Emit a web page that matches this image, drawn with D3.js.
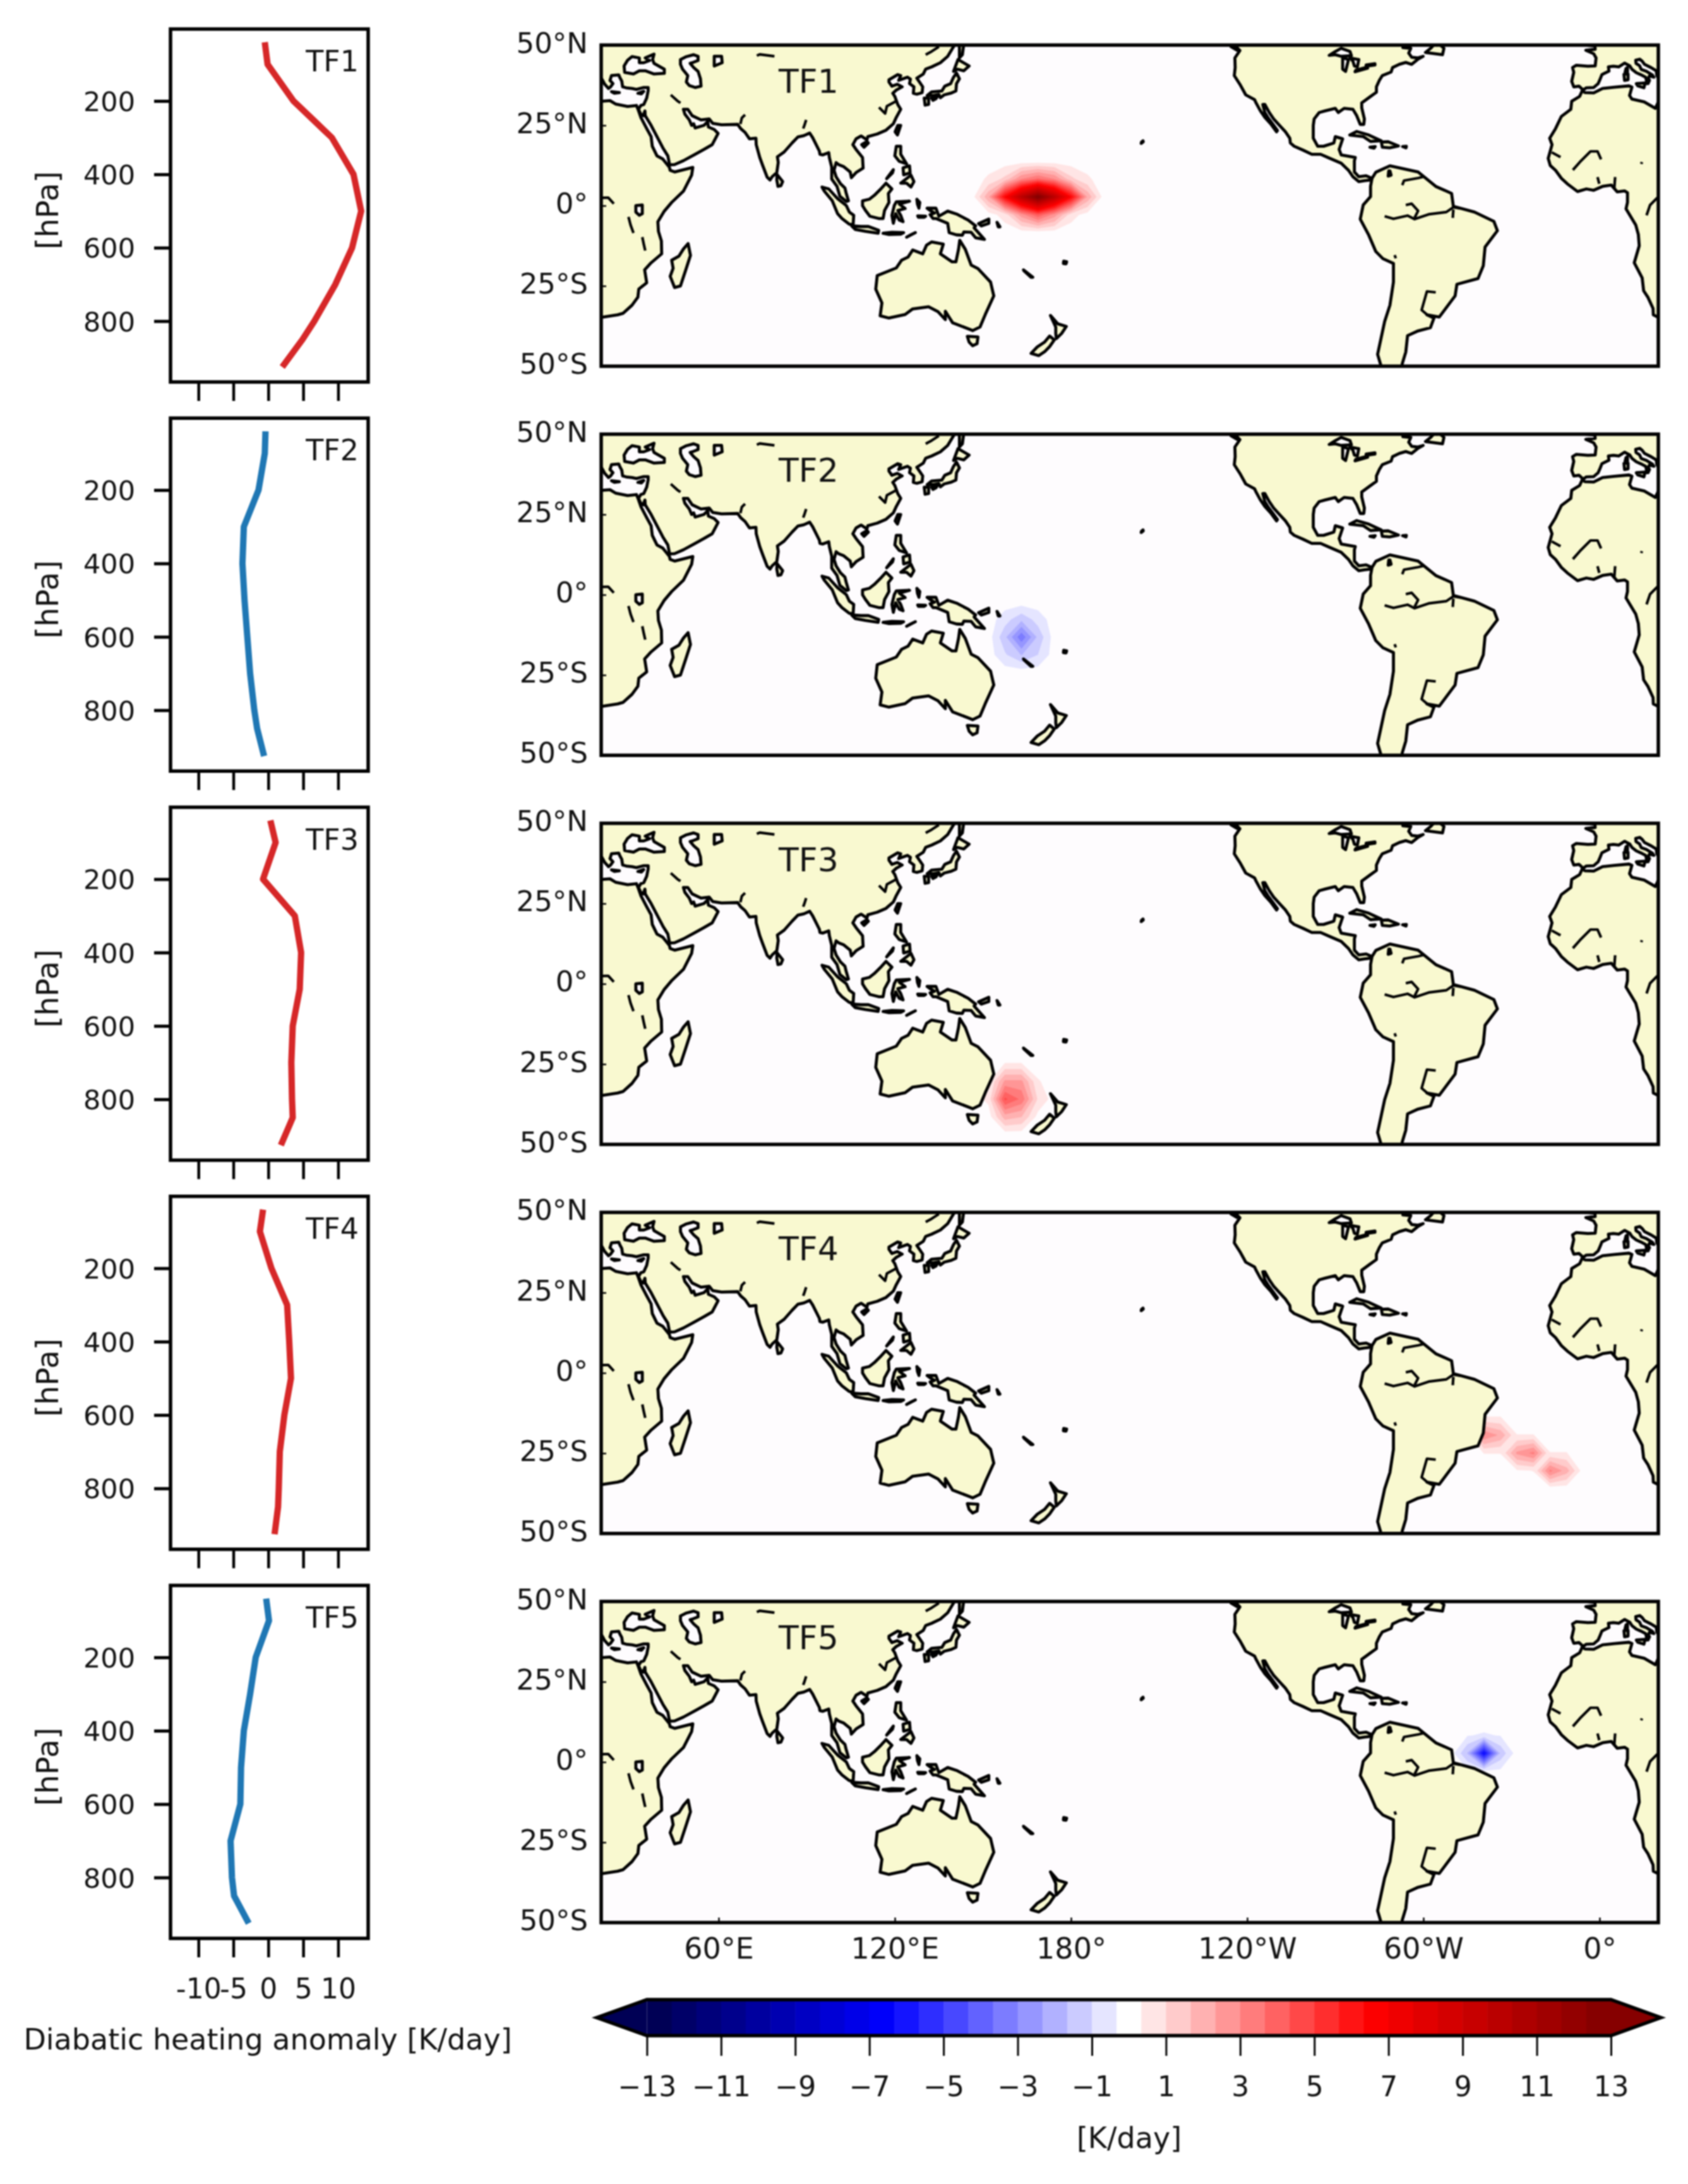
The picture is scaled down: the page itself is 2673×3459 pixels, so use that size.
<!DOCTYPE html>
<html>
<head>
<meta charset="utf-8">
<script src="https://d3js.org/d3.v7.min.js"></script>
<style>
  body { margin: 0; background: #fff; }
  svg { display: block; filter: blur(1.2px); }
  text { font-family: "DejaVu Sans", sans-serif; fill: #111; }
</style>
</head>
<body>
<div id="chart"></div>
<script>
// ---- data ----
var panelNames = ['TF1', 'TF2', 'TF3', 'TF4', 'TF5'];
var pressureLevels = [40, 100, 200, 300, 400, 500, 600, 700, 800, 850, 925];
var tf1Profile = [-0.5, -0.1, 3.6, 9.1, 12.2, 13.3, 12, 9.6, 6.6, 4.9, 2];
var tf2Profile = [-0.4, -0.5, -1.4, -3.5, -3.7, -3.4, -3, -2.6, -2, -1.6, -0.6];
var tf3Profile = [0.3, 1.05, -0.75, 3.8, 4.7, 4.5, 3.5, 3.3, 3.4, 3.5, 1.8];
var tf4Profile = [-0.75, -1.2, 0.45, 2.7, 3, 3.25, 2.3, 1.65, 1.5, 1.4, 0.9];
var tf5Profile = [-0.3, 0.1, -1.8, -2.6, -3.5, -3.9, -4, -5.4, -5.2, -4.9, -2.8];
var profiles = [tf1Profile, tf2Profile, tf3Profile, tf4Profile, tf5Profile];

var pressureTicks = [200, 400, 600, 800];
var anomalyTicks = [-10, -5, 0, 5, 10];
var lonTicks = [60, 120, 180, 240, 300, 360];
var lonTickLabels = ['60°E', '120°E', '180°', '120°W', '60°W', '0°'];
var latTicks = [50, 25, 0, -25, -50];
var latTickLabels = ['50°N', '25°N', '0°', '25°S', '50°S'];
var colorbarTicks = [-13, -11, -9, -7, -5, -3, -1, 1, 3, 5, 7, 9, 11, 13];

// model grid cell values [K/day] around each heating patch
var tf1Lons = [140.625, 146.25, 151.875, 157.5, 163.125, 168.75, 174.375, 180, 185.625, 191.25, 196.875];
var tf1Lats = [19.4, 13.84, 8.3, 2.77, -2.77, -8.3, -13.84];
var tf1Heat = [
  [0, 0, 0, 0, 0, 0, 0, 0, 0, 0, 0],
  [0, 0, 0, 0, 0, 0, 0, 0, 0, 0, 0],
  [0, 0, 0.45, 1.2, 3, 3.8, 3, 1.2, 0.45, 0, 0],
  [0, 0, 2.2, 6.5, 10, 13, 10, 6.5, 2.2, 0, 0],
  [0, 0, 0.05, 0.6, 2.7, 4.2, 2.7, 0.6, 0.05, 0, 0],
  [0, 0, 0, 0, 0, 0, 0, 0, 0, 0, 0],
  [0, 0, 0, 0, 0, 0, 0, 0, 0, 0, 0]
];
var tf2Lons = [146.25, 151.875, 157.5, 163.125, 168.75, 174.375, 180];
var tf2Lats = [-2.2, -7.7, -13.2, -18.8, -24.3, -29.9];
var tf2Heat = [
  [0, 0, 0, 0, 0, 0, 0],
  [0, 0, -0.7, -1.5, -0.7, 0, 0],
  [0, 0, -1.5, -3.5, -1.5, 0, 0],
  [0, 0, -0.9, -1.7, -1, 0, 0],
  [0, 0, 0, 0, 0, 0, 0],
  [0, 0, 0, 0, 0, 0, 0]
];
var tf3Lons = [146.25, 151.875, 157.5, 163.125, 168.75, 174.375];
var tf3Lats = [-19.4, -24.9, -30.5, -36, -41.5, -47];
var tf3Heat = [
  [0, 0, 0, 0, 0, 0],
  [0, 0, 0.35, 0.35, 0, 0],
  [0, 0.15, 2.5, 2.5, 0.4, 0],
  [0, 0.5, 4.5, 3.5, 0.9, 0],
  [0, 0, 2, 1.7, 0.1, 0],
  [0, 0, 0, 0, 0, 0]
];
var tf4Lons = [315, 320.625, 326.25, 331.875, 337.5, 343.125, 348.75, 354.375];
var tf4Lats = [-8.3, -13.84, -19.4, -24.9, -30.5, -36];
var tf4Heat = [
  [0, 0, 0, 0, 0, 0, 0, 0],
  [0, 0.35, 0.35, 0, 0, 0, 0, 0],
  [0, 3, 2.2, 0.35, 0.35, 0, 0, 0],
  [0, 0.35, 0.35, 2.5, 3.2, 0.35, 0.35, 0],
  [0, 0, 0, 0.25, 0.35, 3.2, 2, 0],
  [0, 0, 0, 0, 0, 0, 0, 0]
];
var tf5Lons = [303.75, 309.375, 315, 320.625, 326.25, 331.875, 337.5];
var tf5Lats = [13.84, 8.3, 2.77, -2.77, -8.3];
var tf5Heat = [
  [0, 0, 0, 0, 0, 0, 0],
  [0, 0, -0.3, -0.4, -0.3, 0, 0],
  [0, 0, -1.7, -6.5, -1.5, 0, 0],
  [0, 0, -0.2, -0.3, -0.2, 0, 0],
  [0, 0, 0, 0, 0, 0, 0]
];
var fields = [
  {lons: tf1Lons, lats: tf1Lats, heat: tf1Heat},
  {lons: tf2Lons, lats: tf2Lats, heat: tf2Heat},
  {lons: tf3Lons, lats: tf3Lats, heat: tf3Heat},
  {lons: tf4Lons, lats: tf4Lats, heat: tf4Heat},
  {lons: tf5Lons, lats: tf5Lats, heat: tf5Heat}
];

// coast outlines, [lon, lat]
var eurasia = [[-5,60],[-5,50],[-1.6,49.7],[-1.5,48.7],[-4.7,48.4],[-2,47.3],[-1.2,46],[-1.5,43.5],[-4,43.4],[-8,43.7],[-9.2,43],[-8.8,41.5],[-9.5,38.7],[-8.8,37],[-7,37.2],[-5.6,36],[-4.5,36.7],[-2,36.8],[-0.5,38],[0,39],[0.8,40.8],[3.2,41.9],[3,43.2],[4.7,43.4],[6.5,43.2],[8.5,44.4],[10.3,43.5],[11,42.5],[12.5,41.4],[14,40.8],[15.7,40],[16,38.8],[15.7,38],[16.5,38],[17,39],[16.6,39.7],[17,40.4],[18.5,40],[18,40.7],[16,41.8],[14.2,42.4],[13.6,43.6],[12.4,44.3],[12.3,45.3],[13.7,45.6],[14.5,45],[15.3,44],[17.5,43],[19.3,42],[19.5,40.5],[20.5,39],[21.2,37.8],[22.5,36.5],[23.2,37],[24,38],[23,39],[23.5,40.5],[26,40.7],[26.3,40],[27,38.8],[27.3,37],[28.5,36.7],[30.5,36.5],[32,36.2],[34.5,36.8],[36,36.8],[36,35.8],[35.5,33.5],[34.5,31.5],[33.5,31.2],[32.7,30],[33.5,28.5],[34.3,28],[34.9,29.5],[35,28],[37,25],[39,21.5],[41,18],[42.7,15.5],[43.3,12.7],[45,12.8],[48,14],[52,16],[55,17.5],[57.8,19],[59.8,22.5],[58.5,23.7],[56.5,24.5],[56.3,26.2],[55,25],[52,24.2],[51.5,25.5],[50.8,25],[50,26.7],[48.5,28.5],[48,30],[49.5,30],[51,28],[54,26.7],[56.8,27],[58,25.6],[61,25.2],[66.5,25.3],[67.5,24],[69,22.8],[70.5,20.8],[72.7,21],[72.8,19],[74,15],[75,12.5],[76.5,8.9],[77.5,8],[78.2,9],[79.8,10.3],[80.3,13.5],[80,15.2],[82.3,16.7],[85,19.5],[87,21.4],[89,21.8],[91,22.6],[92,21.2],[94.3,17],[94.5,16],[95.5,15.8],[97.5,16.5],[97.7,15],[98.5,12],[98.5,8.3],[100.3,6],[101.3,2.9],[103.5,1.3],[104.2,1.5],[103.4,4],[103,5.5],[101.5,6.8],[100,9],[99.3,11],[100,13.4],[101,12.7],[102.5,12.2],[104.8,10.5],[105.2,8.7],[106.8,10.3],[109.2,11.7],[109,15],[106.8,17.5],[105.7,19],[106.8,20.8],[108.5,21.7],[110.5,20.5],[110.8,21.5],[114,22.3],[117,23.5],[119.5,25.5],[120.5,27.5],[122,30],[121,31.5],[120,34],[119.3,35],[120.5,36],[122.5,37],[120.8,37.8],[119,37.2],[118,38.5],[118,39.2],[121,40.8],[122,40.5],[121.3,39],[124.3,40],[125.3,39.4],[125,38],[126.5,37],[126.3,35],[127.5,34.7],[129.3,35.2],[129.5,37],[127.5,39.7],[129.7,41],[130.5,42.5],[132.5,43.2],[135.5,44.5],[138,46.5],[140.3,50],[141,53],[141,60]];
var africa = [[-5.9,35.8],[-5,35.2],[-2,35.1],[1,36.5],[5,36.9],[10,37.3],[11,36.9],[10.2,34.3],[11,33.2],[15.2,32.3],[19,30.3],[20.1,32.5],[23,32.7],[25,31.6],[29,30.9],[32,31.2],[32.6,29.9],[33.5,27.5],[35.5,24],[37,21.5],[37.4,18.5],[39,15.5],[41,14.5],[43.2,12],[43.5,11],[45,10.5],[51.2,11.9],[50.8,9.5],[48,4.5],[44,1],[41.5,-1.7],[39.3,-5],[39.5,-8],[40.5,-11],[40.6,-15],[37,-17.8],[34.8,-20],[35.5,-24],[32.8,-26],[32.5,-28.5],[30.5,-31],[27.5,-33.5],[25.6,-34],[20,-34.8],[18.3,-34],[18.2,-32],[16.5,-28.6],[15,-26.5],[14.5,-22.5],[11.8,-17.8],[13.5,-12.5],[13.2,-9],[12.3,-6],[9,-1],[9.5,1],[9.5,4],[8.5,4.6],[6,4.3],[4,6.4],[1,6],[-2,4.8],[-4.5,5.2],[-7.5,4.4],[-11,6.8],[-13,8.5],[-15,11],[-16.8,12.5],[-17.5,14.7],[-16.2,19],[-17,21],[-15,24],[-13,27.8],[-9.8,30],[-9.5,32.5],[-6.8,34]];
var northAmerica = [[236.8,55],[236.5,49.2],[237.5,48.3],[235.8,46],[235.9,43],[235.6,40.5],[237.5,37.8],[239.5,34.5],[242.5,33],[243,32],[244.5,29.5],[246,27.5],[248,25.5],[250,23],[250.3,23.4],[249,25],[247,27.5],[246,29],[245.3,31.5],[246,31.5],[247.5,29],[249,27],[251,25],[253,23],[254.5,21],[254.7,19.5],[256,18.5],[259,17.3],[262,16],[265,16],[268,14.8],[272,13.2],[274.5,11],[276,9],[278,7.5],[280,7.8],[282,8],[282.5,8.5],[280.5,9.3],[278,9],[276.5,10.5],[276.5,14],[276.8,15],[272,15.8],[271.3,17.5],[272.5,20.8],[270,21.5],[269.5,19.5],[266,18.5],[264,18.5],[262.5,21],[262.5,25],[262.8,27],[264.5,29],[266.5,29.5],[270,30.3],[271,29],[273,30.3],[276,30],[277.3,28],[278.5,25.3],[279.7,25.3],[279.9,27],[279,30.5],[279,32],[282,34],[284,35.3],[284,37],[285,39],[286,40.5],[289,41.6],[289.5,43],[291.8,44],[294,44.6],[296,44],[298,45.5],[299.9,46.5],[298,46],[296,46.2],[295,47.5],[295.7,49],[293,49.2],[293,50],[296,50.2],[298,50],[303,52],[303,55]];
var southAmerica = [[282.5,8.5],[282,6],[282,2.8],[279.5,0.2],[278.5,-4.2],[281.4,-9.2],[283.8,-14.3],[286.2,-16.5],[289.8,-18],[289.8,-23.8],[288.6,-31],[286.8,-36.1],[285.6,-41.2],[284.4,-46.3],[285.6,-50],[288,-55],[292,-55],[292.8,-49.2],[294,-45.6],[294.6,-40.5],[298.2,-39],[302.4,-38],[303.6,-35],[301.2,-34],[305.4,-34.7],[310.8,-28.1],[311.4,-24.5],[318.6,-22.7],[320.4,-18.7],[321,-12.9],[325.2,-7.8],[324,-4.9],[317.4,-2],[310.2,-0.2],[309.6,3.8],[304.2,6],[298.2,10.5],[288.6,12.4],[283.8,10.4]];
var australia = [[142.1,-10.8],[144,-13.6],[146,-18.5],[148.3,-19.6],[152.6,-23.8],[153.7,-28.1],[150.8,-33.9],[149,-37.8],[146.5,-38.9],[144.6,-38.2],[139.7,-36.5],[137.2,-32.9],[137.2,-35.5],[134.7,-33],[131.5,-31.5],[126,-32.2],[123.5,-33.9],[118,-35],[115,-34.3],[115.6,-30.3],[113.5,-26],[114,-21.8],[120.5,-19.4],[122.3,-17],[124.5,-16],[126.1,-13.8],[129.5,-15],[130.8,-12.3],[132.5,-11.3],[136.5,-12],[135.5,-15],[139.5,-17.5],[140.8,-17.5],[141.7,-13.6]];
var islandOutlines = [
  [[49.6,-11.8],[50.4,-15.5],[48.8,-20],[47,-25],[45,-25.5],[43.5,-22],[44.5,-19.5],[44,-17],[46.5,-15.7],[48,-13.5]], // madagascar
  [[79.9,9.7],[81.8,7.5],[81.2,6.2],[80.2,6],[79.8,8]], // sri lanka
  [[95.2,5.8],[97.5,5.2],[100.5,2.2],[103.5,0],[104.5,-2],[106,-3],[105.8,-5.9],[104.5,-5.8],[102,-4],[100.5,-2.5],[98.7,1.5],[96,4.5]], // sumatra
  [[109,1.5],[111.3,2],[113,3.2],[115,5],[117,7],[119,5.2],[117.8,3.8],[118,1],[116.5,-1.5],[116,-4],[114.5,-4],[111.5,-3.3],[110,-1.5],[109,0]], // borneo
  [[105.3,-6.3],[108.5,-6.5],[111,-6.5],[114.5,-7.7],[114.3,-8.6],[110,-8],[106.5,-7.4]], // java
  [[116,-8.6],[119,-8.3],[123,-8.4],[122,-8.9],[118,-9]],
  [[124,-9.8],[127,-8.4],[125,-9.3]], // timor
  [[119.5,-5.5],[120.3,-2.5],[121.5,-4.5],[122.8,-5],[122,-3],[121,-1.5],[123.5,-0.9],[121.5,0.5],[125,1.4],[120.5,1.2],[119.8,0],[119,-3]], // sulawesi
  [[127.5,2],[128.5,1],[128.2,-0.8],[127.7,0.5]],
  [[127.8,-3.2],[130.5,-3.3],[130,-3.6],[128,-3.6]], // seram
  [[131,-0.8],[134,-0.8],[135,-3.3],[138,-1.7],[141,-2.6],[145,-4.5],[147.5,-6.3],[147,-6.9],[150.5,-10.5],[147.5,-10],[146,-8.3],[143.5,-8.2],[143,-9.2],[141,-9.1],[138.5,-8.4],[138,-5.5],[134,-4],[133,-4],[132,-2.8],[133.5,-2.3],[132,-1.5]], // new guinea
  [[148.5,-5.6],[152,-4.2],[152,-5.5],[149.5,-6.3]],
  [[154.8,-5.2],[155.8,-6.6],[155.2,-6.6]],
  [[163.8,-20],[167,-22.3],[166.4,-22.3],[164,-20.3]], // new caledonia
  [[177.5,-17.3],[178.5,-17.5],[178.3,-18.1],[177.4,-18]], // fiji
  [[203.9,19.4],[204.6,19.9],[204.5,20.2],[204,19.8]], // hawaii
  [[144.7,-40.7],[148.3,-40.9],[148,-43],[146.5,-43.6],[145.3,-42.5]], // tasmania
  [[173,-34.2],[175.5,-36.8],[178.4,-37.6],[176.8,-39.8],[175,-41.4],[174.8,-39.8],[174.8,-37.8]], // north island
  [[172.7,-40.6],[174.3,-41.8],[172.8,-43.8],[171,-45.5],[169,-46.7],[166.4,-46],[168.5,-44],[171,-42.5]], // south island
  [[120.5,18.5],[122,18.5],[122,16],[124,13],[121.5,13.8],[120,15.5]], // luzon
  [[122,7],[125.5,9.5],[126.5,7.5],[125.5,5.8],[124,7]], // mindanao
  [[122.8,11.8],[125,12.4],[125.2,10.2],[123,9.6]],
  [[117.2,8.4],[119.5,11.2],[119.2,10.2]], // palawan
  [[120.1,23],[121,25],[122,25],[120.9,22]], // taiwan
  [[108.7,19],[110.5,20],[111,19.5],[109.5,18.2]], // hainan
  [[130,33.5],[131.5,33.5],[131.5,31.5],[130.3,31.3]], // kyushu
  [[132.5,33.5],[134.5,34],[134,33.3],[133,32.8]], // shikoku
  [[131,34.3],[132.5,35.4],[136,35.7],[137,37.2],[139,38],[140,40],[141,41.3],[142,39.5],[141,38],[140.8,35.7],[139,35],[136.8,34.5],[135.5,33.6],[135,34.6],[133,34.3]], // honshu
  [[140,41.8],[141.5,45.5],[145.3,43.5],[143.5,42],[141.3,42.5]], // hokkaido
  [[142,46],[142,50.5],[143.5,50.5],[143,47]], // sakhalin
  [[8.5,39],[9.7,39.2],[9.7,41],[8.3,40.9]], // sardinia
  [[8.7,41.6],[9.5,41.6],[9.5,43],[9,42.7]], // corsica
  [[12.5,38],[15.5,38.2],[15.1,36.7],[13,37.3]], // sicily
  [[23.5,35.5],[26.2,35.2],[24.5,35]], // crete
  [[32.5,35],[34.5,35.6],[33.7,34.8]], // cyprus
  [[234.5,49.5],[236.5,48.4],[236.6,49.2],[235.2,50.2]], // vancouver
  [[274.9,22],[277.3,23.1],[281.4,22],[285.6,20.2],[282,20],[279.5,21.5]], // cuba
  [[285.7,19.8],[288,19.9],[291.5,18.6],[288.5,18],[286,18.2]], // hispaniola
  [[281.8,18.2],[283.6,18.4],[283.2,17.9]], // jamaica
  [[292.9,18.4],[294.2,18.5],[294.1,18]], // puerto rico
  [[300.7,47.7],[306.5,47],[307,49],[304.5,51],[302.5,49]] // newfoundland
];
var landOutlines = [eurasia, africa, northAmerica, southAmerica, australia].concat(islandOutlines);

// inland seas and lakes
var lakeOutlines = [
  [[28,41.5],[27.8,43.5],[29,45.3],[30.5,46.4],[33,46],[33,44.5],[34.5,44.5],[36.5,45.2],[35,46],[38,47.2],[37.5,45.5],[38,44.3],[41.5,42.5],[41.5,41.2],[38,41],[35,42],[33,42],[31,41]], // black sea
  [[47,45.5],[49,46.4],[51.5,47],[53,46.5],[53,45.2],[51,44.5],[50.3,44.3],[51.5,43],[53,41.8],[53.8,39.5],[54,37.2],[52,36.8],[50,37.4],[49,38.5],[49.5,40.5],[47.7,42.5],[47,44]], // caspian
  [[58.5,46.5],[61,46.5],[61.2,44.5],[58.5,43.5]], // aral
  [[31.8,0],[34,0.2],[34,-2.5],[33,-3],[31.8,-2]], // victoria
  [[267.9,46.8],[270,47],[272,46.5],[275.5,46.7],[275,48],[272,49],[270,48]], // superior
  [[272.5,46],[274.5,45.5],[273.5,41.8],[272.5,42.5]], // michigan
  [[275,46],[278,45.5],[277.5,43.2],[276.5,43.5],[276,45]], // huron
  [[276.7,41.7],[281,42.8],[280.3,43],[277,42.2]], // erie
  [[280.5,43.4],[283.5,43.8],[283.5,44.2],[280.5,43.8]], // ontario
  [[288,9.2],[289,9.5],[288.6,10.8],[288.2,10.8]] // maracaibo
];

// rivers and thin lakes, open lines
var riverLines = [
  [[286.8,-3.3],[289.8,-4.1],[294.6,-3.1],[297,-4.2],[301.8,-2.7],[307.8,-2],[310.2,-0.5],[312.6,-0.9]], // amazon
  [[294,0.2],[296,0.6],[298.2,-1.6],[297,-3.8]],
  [[310.2,-1.2],[310,-3.8]],
  [[292.8,6.4],[293.4,7.8],[298.2,8.6],[300,9]], // orinoco
  [[304.2,-27],[301.2,-26.7],[299.4,-32.5],[301.2,-33.9]], // parana
  [[290.2,-15.4],[290.6,-16.4]], // titicaca
  [[16,-3],[17.2,0.2],[19.6,2.4],[22.4,2.5],[24.3,0.6]], // congo
  [[-9.1,11.1],[-6.7,13.6],[-3.1,16.9],[-0.7,16.9],[0.5,14.4]], // niger
  [[5.3,8.9],[5,5.3]],
  [[-0.7,8.9],[-0.1,6.8]],
  [[-16.3,16.6],[-13.3,15.1]], // senegal
  [[29.3,-3.5],[30,-6],[31,-8.5]], // tanganyika
  [[34,-9.8],[34.5,-12],[35,-14]], // malawi
  [[14.2,13],[14.4,13.6]], // chad
  [[73,46.7],[74,47.1],[79,46.5]], // balkhash
  [[43.7,34.5],[46,32.6],[47,32]], // tigris
  [[69,28.3],[67.9,27.3],[67.4,25.4]], // indus
  [[89.8,26.7],[89.2,25],[88.8,24]], // ganges
  [[114.6,30.6],[116.7,28.7],[117.3,31],[120.6,32.6]], // yangtze
  [[130.5,47],[132.5,48],[135,49.5]] // amur
];

// ---- scales shared by the panels ----
var width = 2673;
var height = 3459;
var panelStep = 616.25;

var svg = d3.select('#chart').append('svg')
  .attr('width', width)
  .attr('height', height)
  .attr('viewBox', '0 0 ' + width + ' ' + height)
  .style('background', '#fff');

var xAnomaly = d3.scaleLinear().domain([-14, 14.3]).range([270, 583]);
var yPressure = d3.scaleLinear().domain([4, 966]).range([46, 605]);
var xLon = d3.scaleLinear().domain([20, 380]).range([952, 2626]);
var yLat = d3.scaleLinear().domain([50, -50]).range([71.4, 580]);

var profileLine = d3.line()
  .x(function(d) { return xAnomaly(d.value); })
  .y(function(d) { return yPressure(d.level); });

function coastPath(points, shift) {
  return d3.line()
    .x(function(d) { return xLon(d[0] + shift); })
    .y(function(d) { return yLat(d[1]); })(points);
}

// colour bands: 39 even intervals between -13 and 13, seismic colour map
var levels = d3.range(40).map(function(i) { return -13 + i * 2 / 3; });
var seismic = d3.scaleLinear()
  .domain([0, 0.25, 0.5, 0.75, 1])
  .range(['rgb(0,0,76)', 'rgb(0,0,255)', 'rgb(255,255,255)', 'rgb(255,0,0)', 'rgb(127,0,0)']);
var bandColors = d3.range(39).map(function(i) { return seismic((i + 0.5) / 39); });
var upperLevels = levels.filter(function(l) { return l > 0; });
var oceanColor = '#fefcfe';
var landColor = '#f9f9d0';

// ---- left column, heating profiles ----
panelNames.forEach(function(name, i) {
  var dy = i * panelStep;
  var g = svg.append('g').attr('transform', 'translate(0,' + dy + ')');

  var data = pressureLevels.map(function(level, k) {
    return {level: level, value: profiles[i][k]};
  });
  g.append('path')
    .attr('d', profileLine(data))
    .attr('fill', 'none')
    .attr('stroke-width', 10)
    .attr('stroke-linejoin', 'round')
    .attr('stroke', d3.max(data, function(d) { return d.value; }) > 2 ? '#d62728' : '#1f77b4');

  g.append('rect')
    .attr('x', 270).attr('y', 46).attr('width', 313).attr('height', 559)
    .attr('fill', 'none').attr('stroke', '#000').attr('stroke-width', 5.5);

  var yAxis = g.append('g')
    .attr('transform', 'translate(270,0)')
    .call(d3.axisLeft(yPressure).tickValues(pressureTicks).tickSize(26).tickPadding(30));
  yAxis.select('.domain').remove();
  yAxis.selectAll('line').attr('stroke', '#000').attr('stroke-width', 5);
  yAxis.selectAll('text').attr('font-size', 43).attr('dy', '0.36em');

  var xAxis = g.append('g')
    .attr('transform', 'translate(0,605)')
    .call(d3.axisBottom(xAnomaly).tickValues(anomalyTicks).tickSize(30).tickPadding(34));
  xAxis.select('.domain').remove();
  xAxis.selectAll('line').attr('stroke', '#000').attr('stroke-width', 4.5);
  xAxis.selectAll('text')
    .attr('font-size', 44)
    .text(function(d) { return i == 4 ? d : ''; });

  g.append('text')
    .attr('x', 568).attr('y', 113)
    .attr('text-anchor', 'end')
    .attr('font-size', 46)
    .text(name);

  g.append('text')
    .attr('transform', 'translate(92,333) rotate(-90)')
    .attr('text-anchor', 'middle')
    .attr('font-size', 48)
    .text('[hPa]');
});

svg.append('text')
  .attr('x', 424).attr('y', 3246)
  .attr('text-anchor', 'middle')
  .attr('font-size', 46)
  .text('Diabatic heating anomaly [K/day]');

// ---- right column, maps ----
var defs = svg.append('defs');
defs.append('clipPath').attr('id', 'mapClip')
  .append('rect').attr('x', 952).attr('y', 71.4).attr('width', 1674).attr('height', 508.6);

panelNames.forEach(function(name, i) {
  var dy = i * panelStep;
  var g = svg.append('g').attr('transform', 'translate(0,' + dy + ')');
  var map = g.append('g').attr('clip-path', 'url(#mapClip)');

  map.append('rect')
    .attr('x', 952).attr('y', 71.4).attr('width', 1674).attr('height', 508.6)
    .attr('fill', oceanColor);

  // filled contours of the heating patch
  var field = fields[i];
  var nx = field.lons.length, ny = field.lats.length;
  var flat = d3.merge(field.heat);
  var sign = d3.sum(flat) < 0 ? -1 : 1;
  var dLon = field.lons[1] - field.lons[0];
  var dLat = field.lats[0] - field.lats[1];
  var contourProjection = d3.geoTransform({
    point: function(cx, cy) {
      this.stream.point(
        xLon(field.lons[0] + (cx - 0.5) * dLon),
        yLat(field.lats[0] - (cy - 0.5) * dLat)
      );
    }
  });
  var contourPath = d3.geoPath(contourProjection);
  var bands = d3.contours()
    .size([nx, ny])
    .thresholds(upperLevels)(flat.map(function(v) { return v * sign; }));
  map.selectAll('.band').data(bands).enter().append('path')
    .attr('class', 'band')
    .attr('d', contourPath)
    .attr('fill', function(d, k) {
      // the band just above level k counted outward from white
      return sign > 0 ? bandColors[20 + k] : bandColors[18 - k];
    });

  // land goes over the field, each outline also one revolution left and right
  [-360, 0, 360].forEach(function(shift) {
    map.append('g').selectAll('path').data(landOutlines).enter().append('path')
      .attr('d', function(d) { return coastPath(d, shift) + 'Z'; })
      .attr('fill', landColor)
      .attr('stroke', '#000')
      .attr('stroke-width', 4.8)
      .attr('stroke-linejoin', 'round');
    map.append('g').selectAll('path').data(lakeOutlines).enter().append('path')
      .attr('d', function(d) { return coastPath(d, shift) + 'Z'; })
      .attr('fill', oceanColor)
      .attr('stroke', '#000')
      .attr('stroke-width', 4.8)
      .attr('stroke-linejoin', 'round');
    map.append('g').selectAll('path').data(riverLines).enter().append('path')
      .attr('d', function(d) { return coastPath(d, shift); })
      .attr('fill', 'none')
      .attr('stroke', '#000')
      .attr('stroke-width', 4.2)
      .attr('stroke-linejoin', 'round');
  });

  g.append('rect')
    .attr('x', 952).attr('y', 71.4).attr('width', 1674).attr('height', 508.6)
    .attr('fill', 'none').attr('stroke', '#000').attr('stroke-width', 5.5);

  var latAxis = g.append('g')
    .attr('transform', 'translate(952,0)')
    .call(d3.axisLeft(yLat).tickValues(latTicks).tickSize(-8).tickPadding(21)
      .tickFormat(function(d, k) { return latTickLabels[k]; }));
  latAxis.select('.domain').remove();
  latAxis.selectAll('line').attr('stroke', '#000').attr('stroke-width', 2.5);
  latAxis.selectAll('text').attr('font-size', 45).attr('dy', '0.26em');

  g.append('text')
    .attr('x', 1233).attr('y', 147)
    .attr('font-size', 52)
    .text(name);

  if (i == 4) {
    var lonAxis = g.append('g')
      .attr('transform', 'translate(0,580)')
      .call(d3.axisBottom(xLon).tickValues(lonTicks).tickSize(-8).tickPadding(24)
        .tickFormat(function(d, k) { return lonTickLabels[k]; }));
    lonAxis.select('.domain').remove();
    lonAxis.selectAll('line').attr('stroke', '#000').attr('stroke-width', 2.5);
    lonAxis.selectAll('text').attr('font-size', 46);
  }
});

// ---- colour bar ----
var barTop = 3167, barBottom = 3224;
var xBar = d3.scaleLinear().domain([-13, 13]).range([1024.4, 2551]);
var tipLeft = 945, tipRight = 2630;
var barMid = (barTop + barBottom) / 2;
var bar = svg.append('g');

bar.append('polygon')
  .attr('points', [[xBar(-13), barTop], [tipLeft, barMid], [xBar(-13), barBottom]].join(' '))
  .attr('fill', bandColors[0]);
bar.append('polygon')
  .attr('points', [[xBar(13), barTop], [tipRight, barMid], [xBar(13), barBottom]].join(' '))
  .attr('fill', bandColors[38]);
bar.selectAll('.swatch').data(bandColors).enter().append('rect')
  .attr('class', 'swatch')
  .attr('x', function(d, k) { return xBar(levels[k]); })
  .attr('width', function(d, k) { return xBar(levels[k + 1]) - xBar(levels[k]) + 0.6; })
  .attr('y', barTop)
  .attr('height', barBottom - barTop)
  .attr('fill', function(d) { return d; });
bar.append('polygon')
  .attr('points', [[xBar(-13), barTop], [xBar(13), barTop], [tipRight, barMid], [xBar(13), barBottom], [xBar(-13), barBottom], [tipLeft, barMid]].join(' '))
  .attr('fill', 'none')
  .attr('stroke', '#000')
  .attr('stroke-width', 5.5);

var barAxis = svg.append('g')
  .attr('transform', 'translate(0,' + barBottom + ')')
  .call(d3.axisBottom(xBar).tickValues(colorbarTicks).tickSize(32).tickPadding(33)
    .tickFormat(function(d) { return d < 0 ? '\u2212' + (-d) : d; }));
barAxis.select('.domain').remove();
barAxis.selectAll('line').attr('stroke', '#000').attr('stroke-width', 3);
barAxis.selectAll('text').attr('font-size', 44);

svg.append('text')
  .attr('x', 1788).attr('y', 3402)
  .attr('text-anchor', 'middle')
  .attr('font-size', 46)
  .text('[K/day]');

// axis() sets its own font, put ours back
svg.selectAll('g').attr('font-family', null);
</script>
</body>
</html>
